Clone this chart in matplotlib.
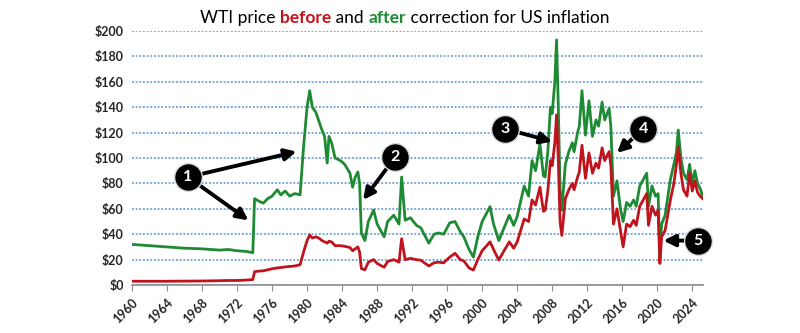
import matplotlib
matplotlib.use('Agg')
import matplotlib.pyplot as plt
from matplotlib.offsetbox import TextArea, HPacker, AnchoredOffsetbox
import numpy as np

plt.rcParams['font.family'] = ['Lato', 'DejaVu Sans']

# decimal years and WTI price, inflation adjusted (green) and nominal (red)
years = [1960.0, 1962.0, 1964.0, 1966.0, 1968.0, 1970.0, 1971.0, 1972.0, 1973.0, 1973.8,
         1974.0, 1974.5, 1975.0, 1975.5, 1976.0, 1976.6, 1977.0, 1977.5, 1978.0, 1978.6,
         1979.2, 1979.6, 1980.0, 1980.3, 1980.6, 1981.0, 1981.4, 1981.7, 1982.0, 1982.3,
         1982.5, 1982.8, 1983.2, 1983.8, 1984.3, 1984.9, 1985.2, 1985.5, 1985.8, 1986.0,
         1986.2, 1986.6, 1987.0, 1987.6, 1988.0, 1988.8, 1989.2, 1989.9, 1990.5, 1990.8,
         1991.2, 1991.8, 1992.5, 1993.0, 1993.9, 1994.5, 1995.0, 1995.6, 1996.3, 1996.9,
         1997.5, 1997.9, 1998.5, 1999.0, 1999.5, 2000.0, 2000.9, 2001.3, 2001.9, 2002.5,
         2003.1, 2003.6, 2004.0, 2004.8, 2005.3, 2005.7, 2006.1, 2006.6, 2007.0, 2007.2,
         2007.5, 2007.8, 2008.0, 2008.3, 2008.5, 2008.7, 2008.9, 2009.1, 2009.5, 2009.9,
         2010.3, 2010.5, 2010.9, 2011.1, 2011.4, 2011.8, 2012.2, 2012.6, 2013.0, 2013.3,
         2013.7, 2014.0, 2014.5, 2014.7, 2015.0, 2015.4, 2015.8, 2016.1, 2016.5, 2016.9,
         2017.3, 2017.6, 2018.0, 2018.8, 2019.0, 2019.4, 2019.8, 2020.1, 2020.3, 2020.5,
         2020.9, 2021.5, 2021.9, 2022.2, 2022.4, 2022.7, 2023.0, 2023.4, 2023.7, 2024.0,
         2024.3, 2024.6, 2024.9, 2025.2]
real = [32, 31, 30, 29, 28.5, 27.5, 28, 27, 26.5, 25.5,
        68, 66, 64.5, 68, 70, 75, 71, 74, 70, 72,
        71, 109, 140, 153, 140, 136, 128, 122, 117, 96,
        117, 112, 100, 98, 95, 88, 77, 85, 89, 80,
        41, 35, 50, 59, 48, 38, 50, 55, 48, 85,
        51, 53, 47, 45, 33, 40, 41, 40, 49, 50,
        42, 38, 28, 22, 38, 50, 61.7, 48, 35, 45,
        55, 47, 54, 78, 70, 98, 90, 111, 86, 85,
        105, 140, 135, 160, 193, 140, 75, 59, 95, 105,
        112, 105, 120, 125, 153, 118, 145, 117, 130, 125,
        144, 130, 139, 125, 70, 82, 60, 50, 65, 62,
        67, 62, 78, 88, 62, 78, 70, 72, 21, 48,
        55, 83, 95, 105, 122, 100, 88, 83, 95, 80,
        90, 80, 76, 70]
nominal = [3.0, 3.0, 3.0, 3.1, 3.2, 3.4, 3.6, 3.6, 3.9, 4.3,
           10.5, 11, 11.2, 12, 12.8, 13.5, 13.8, 14.3, 14.6, 15,
           16, 26, 35, 39.4, 37, 38, 36.7, 35, 34, 33,
           34.5, 34, 31, 31, 30.5, 29.5, 27, 28.5, 30, 26,
           13, 12, 18, 20, 17, 14, 18.5, 20, 18, 36.5,
           20, 21, 20, 19.5, 15, 17.5, 18, 17.5, 22, 25,
           20, 19, 13.5, 11.8, 20, 27, 34, 28, 19.7, 27,
           34, 29, 34, 52, 50, 67, 63, 77, 58, 59,
           74, 98, 94, 112, 134, 98, 50, 39, 68, 75,
           80, 75, 85, 89, 110, 84, 104, 88, 96, 92,
           108, 98, 105, 94, 48, 60, 43, 30, 48, 46,
           51, 47, 62, 72, 47, 62, 55, 59, 17, 38,
           43, 67, 80, 95, 109, 88, 75, 70, 88, 74,
           82, 73, 70, 68]

y_ticks = [0, 20, 40, 60, 80, 100, 120, 140, 160, 180, 200]
x_ticks = list(range(1960, 2025, 4))

# numbered callouts: circle position, arrow tip
callouts = [
    ('1', (1966.4, 85), (1978.8, 105)),
    ('1', (1966.4, 85), (1973.3, 51)),
    ('2', (1990.1, 101), (1986.4, 67)),
    ('3', (2002.6, 123), (2008.0, 113)),
    ('4', (2018.4, 123), (2015.4, 104)),
    ('5', (2024.7, 35), (2020.7, 35)),
]

GREEN = '#1f8a34'
RED = '#c0141c'

fig = plt.figure(figsize=(8, 3.33), dpi=100)
ax = fig.add_axes([0.165, 0.144, 0.714, 0.763])

ax.plot(years, real, color=GREEN, lw=2.0, zorder=3)
ax.plot(years, nominal, color=RED, lw=2.0, zorder=4)

ax.set_xlim(1960, 2025.25)
ax.set_ylim(0, 200)
ax.set_yticks(y_ticks)
ax.set_yticklabels(['$%d' % v for v in y_ticks], fontsize=9, fontweight='bold', color='#262626')
ax.set_xticks(x_ticks)
ax.set_xticklabels([str(v) for v in x_ticks], fontsize=9, fontweight='bold', color='#262626',
                   rotation=45, ha='right', rotation_mode='anchor')
ax.tick_params(axis='y', length=0, pad=6)
ax.tick_params(axis='x', length=4, color='#8c8c8c', direction='out', pad=4)
ax.yaxis.grid(True, color='#4f8fcf', lw=1.1, ls=(0, (1.2, 1.2)))
ax.set_axisbelow(True)
for s in ['top', 'right', 'left']:
    ax.spines[s].set_visible(False)
ax.spines['bottom'].set_color('#8c8c8c')
ax.spines['bottom'].set_linewidth(1.2)
ax.spines['bottom'].set_zorder(5)

for num, (cx, cy), (tx, ty) in callouts:
    ax.annotate('', xy=(tx, ty), xytext=(cx, cy),
                arrowprops=dict(arrowstyle='-|>', color='black', lw=2.8,
                                mutation_scale=17, shrinkA=0, shrinkB=0),
                zorder=6, annotation_clip=False)
drawn = set()
for num, (cx, cy), _ in callouts:
    if (cx, cy) in drawn:
        continue
    drawn.add((cx, cy))
    ax.plot(cx, cy, 'o', ms=20, mfc='black', mec='#d9d9d9', mew=1, zorder=7, clip_on=False)
    ax.text(cx, cy, num, color='white', fontsize=11.5, fontweight='bold',
            ha='center', va='center', zorder=8)

# title with coloured words
parts = [('WTI price ', 'black', 'normal'), ('before', RED, 'bold'), (' and ', 'black', 'normal'),
         ('after', GREEN, 'bold'), (' correction for US inflation', 'black', 'normal')]
areas = [TextArea(t, textprops=dict(color=c, fontweight=w, fontsize=12.5)) for t, c, w in parts]
box = HPacker(children=areas, align='baseline', pad=0, sep=0)
anchored = AnchoredOffsetbox(loc='center', child=box, frameon=False,
                             bbox_to_anchor=(0.506, 0.947), bbox_transform=fig.transFigure,
                             borderpad=0, pad=0)
fig.add_artist(anchored)

fig.savefig('out.png', dpi=100, facecolor='white')
